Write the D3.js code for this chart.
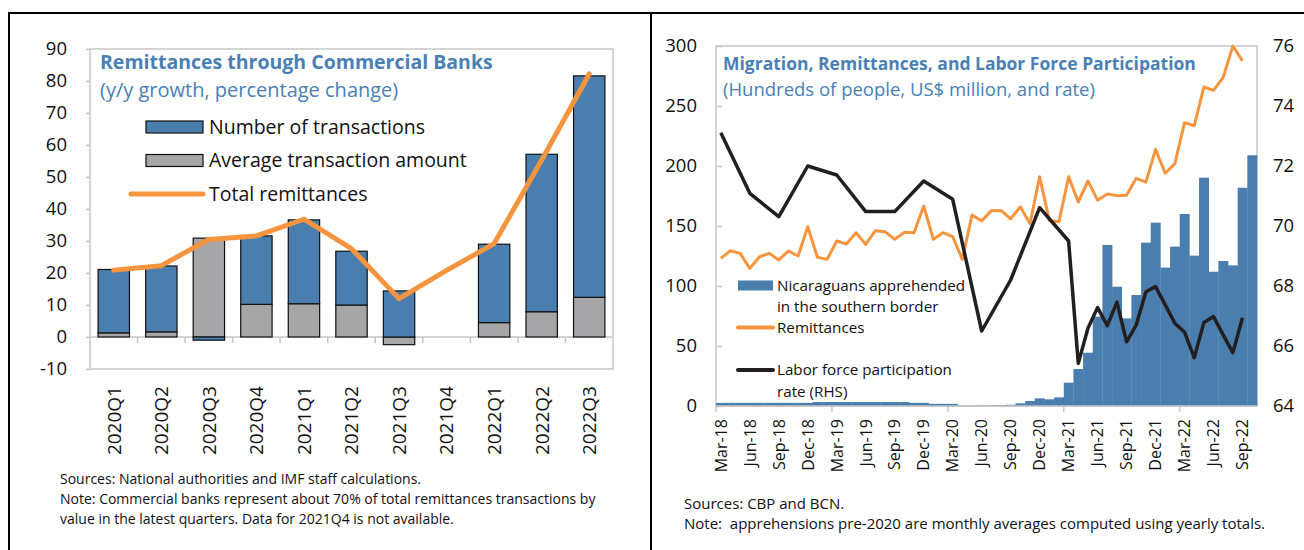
<!DOCTYPE html>
<meta charset="utf-8">
<script src="https://d3js.org/d3.v7.min.js"></script>
<style>
  body { margin: 0; background: #fff; }
  svg text { font-family: "Open Sans", "Noto Sans", sans-serif; }
</style>
<div id="dataVis"></div>
<script>
// ---- left panel: remittances through commercial banks (y/y %) ----
var quarters = ["2020Q1","2020Q2","2020Q3","2020Q4","2021Q1","2021Q2","2021Q3","2021Q4","2022Q1","2022Q2","2022Q3"];
var avgAmount = [1.3, 1.6, 30.9, 10.2, 10.4, 10.0, -2.4, null, 4.5, 7.9, 12.4];
var numTransactions = [19.8, 20.6, -1.0, 21.4, 26.2, 16.8, 14.4, null, 24.5, 49.2, 69.2];
var totalRemit = [20.9, 22.3, 30.5, 31.6, 36.8, 27.6, 12.0, 20.8, 29.2, 55.3, 82.2];
var leftTicks = [-10, 0, 10, 20, 30, 40, 50, 60, 70, 80, 90];

// ---- right panel: migration, remittances, labour force ----
var months = ["Mar-18","Apr-18","May-18","Jun-18","Jul-18","Aug-18","Sep-18","Oct-18","Nov-18","Dec-18",
  "Jan-19","Feb-19","Mar-19","Apr-19","May-19","Jun-19","Jul-19","Aug-19","Sep-19","Oct-19","Nov-19","Dec-19",
  "Jan-20","Feb-20","Mar-20","Apr-20","May-20","Jun-20","Jul-20","Aug-20","Sep-20","Oct-20","Nov-20","Dec-20",
  "Jan-21","Feb-21","Mar-21","Apr-21","May-21","Jun-21","Jul-21","Aug-21","Sep-21","Oct-21","Nov-21","Dec-21",
  "Jan-22","Feb-22","Mar-22","Apr-22","May-22","Jun-22","Jul-22","Aug-22","Sep-22","Oct-22"];
var apprehended = [2.6,2.6,2.6,2.6,2.6,2.6,2.6,2.6,2.6,2.6,
  3.3,3.3,3.3,3.3,3.3,3.3,3.3,3.3,3.3,3.3,2.6,2.6,
  1.8,1.8,1.8,0.3,0.3,0.4,0.6,0.8,1.0,2.2,4.2,6.4,
  5.6,7.2,19.4,30.8,44.4,74.4,134.2,99.4,73.0,92.5,136.1,152.8,
  115.3,132.8,160.0,125.3,190.3,111.9,120.8,117.2,181.9,208.9];
var remittances = [123.1,129.4,127.2,114.7,124.4,127.2,121.7,129.2,125.0,149.4,
  123.9,122.2,137.5,135.0,144.4,134.7,146.1,145.3,138.9,144.7,144.4,166.7,
  138.9,144.4,141.1,122.2,159.2,154.2,162.8,163.0,156.0,166.0,152.0,191.0,
  154.5,153.5,191.0,170.0,187.5,171.5,176.7,175.3,175.6,189.7,186.6,213.9,
  194.0,202.0,236.1,233.5,265.8,263.0,273.9,300.0,287.6,null];
var laborRate = [73.11,null,null,71.09,null,null,70.31,null,null,72.0,
  null,null,71.7,null,null,70.48,null,null,70.48,null,null,71.5,
  null,null,70.89,null,null,66.5,null,null,68.2,null,null,70.61,
  null,null,69.5,65.42,66.59,67.28,66.68,67.46,66.14,66.7,67.81,67.98,
  67.37,66.76,66.46,65.61,66.78,66.98,66.37,65.78,66.94,null];
var rightLeftTicks = [0, 50, 100, 150, 200, 250, 300];
var rightRightTicks = [64, 66, 68, 70, 72, 74, 76];

var blue = "#4a7eae", grey = "#a6a6a8", orange = "#f7953f", titleBlue = "#4a80b4",
    frameGrey = "#c6c6c6", ink = "#111";

var svg = d3.select("#dataVis").append("svg")
  .attr("width", 1304).attr("height", 550);

// panel borders
svg.append("path")
  .attr("d", "M9,550V13H1304M651,13V550")
  .attr("fill", "none").attr("stroke", "#000").attr("stroke-width", 2);

// ================= LEFT PANEL =================
var x = d3.scaleBand().domain(quarters).range([90, 613]);
var y = d3.scaleLinear().domain([-10, 90]).range([369, 49]);

var left = svg.append("g");

left.append("rect")
  .attr("x", 90).attr("y", 49).attr("width", 523).attr("height", 320)
  .attr("fill", "none").attr("stroke", frameGrey).attr("stroke-width", 1.5);

// zero line with category ticks
left.append("line")
  .attr("x1", 90).attr("x2", 613).attr("y1", y(0)).attr("y2", y(0))
  .attr("stroke", frameGrey).attr("stroke-width", 1.5);
left.append("g").selectAll("line")
  .data(quarters.slice(1))
  .enter().append("line")
    .attr("x1", d => x(d)).attr("x2", d => x(d))
    .attr("y1", y(0)).attr("y2", y(0) + 6)
    .attr("stroke", frameGrey).attr("stroke-width", 1.5);

// y axis
var yAxis = left.append("g")
  .attr("transform", "translate(90,0)")
  .call(d3.axisLeft(y).tickValues(leftTicks).tickSize(4).tickPadding(19).tickFormat(d => String(d)));
yAxis.select(".domain").remove();
yAxis.selectAll("line").attr("stroke", frameGrey).attr("stroke-width", 1.5);
yAxis.selectAll("text").style("font-size", "18.5px").style("fill", ink);

// x axis labels (rotated)
var xAxis = left.append("g")
  .attr("transform", "translate(0,369)")
  .call(d3.axisBottom(x).tickSize(0));
xAxis.select(".domain").remove();
xAxis.selectAll("text")
  .attr("transform", "rotate(-90)")
  .attr("x", -17).attr("y", 0).attr("dy", "0.36em")
  .attr("text-anchor", "end")
  .style("font-size", "19px").style("fill", ink);

// stacked bars
var rows = quarters.map((q, i) => ({ q: q, avg: avgAmount[i] || 0, num: numTransactions[i] || 0 }));
var stack = d3.stack().keys(["avg", "num"]).offset(d3.stackOffsetDiverging)(rows);
var barW = x.bandwidth() * 0.66;
var bars = left.append("g");
stack.forEach(function (layer) {
  bars.append("g")
    .attr("fill", layer.key === "avg" ? grey : blue)
    .selectAll("rect")
    .data(layer.filter(d => d[1] !== d[0]))
    .enter().append("rect")
      .attr("x", d => x(d.data.q) + (x.bandwidth() - barW) / 2)
      .attr("y", d => y(Math.max(d[0], d[1])))
      .attr("width", barW)
      .attr("height", d => Math.abs(y(d[0]) - y(d[1])))
      .attr("stroke", ink).attr("stroke-width", 1.2);
});

// total remittances line
left.append("path")
  .datum(totalRemit)
  .attr("fill", "none").attr("stroke", orange).attr("stroke-width", 5)
  .attr("stroke-linejoin", "round").attr("stroke-linecap", "round")
  .attr("d", d3.line().x((d, i) => x(quarters[i]) + x.bandwidth() / 2).y(d => y(d)));

// title
left.append("text").attr("x", 100).attr("y", 69)
  .text("Remittances through Commercial Banks")
  .style("font-size", "19.5px").style("font-weight", "bold").style("fill", titleBlue);
left.append("text").attr("x", 100).attr("y", 97)
  .text("(y/y growth, percentage change)")
  .style("font-size", "20px").style("fill", titleBlue);

// legend
var legL = left.append("g");
var legItems = [
  { name: "Number of transactions", type: "rect", color: blue, cy: 127 },
  { name: "Average transaction amount", type: "rect", color: grey, cy: 160.5 },
  { name: "Total remittances", type: "line", color: orange, cy: 194 }
];
legItems.forEach(function (d) {
  if (d.type === "rect") {
    legL.append("rect").attr("x", 146).attr("y", d.cy - 6).attr("width", 57).attr("height", 12)
      .attr("fill", d.color).attr("stroke", ink).attr("stroke-width", 1.2);
  } else {
    legL.append("line").attr("x1", 131).attr("x2", 203).attr("y1", d.cy).attr("y2", d.cy)
      .attr("stroke", d.color).attr("stroke-width", 5).attr("stroke-linecap", "round");
  }
  legL.append("text").attr("x", 209).attr("y", d.cy).attr("dy", "0.35em")
    .text(d.name).style("font-size", "19.5px").style("fill", ink);
});

// notes
var notesL = ["Sources: National authorities and IMF staff calculations.",
  "Note: Commercial banks represent about 70% of total remittances transactions by",
  "value in the latest quarters. Data for 2021Q4 is not available."];
left.append("g").selectAll("text").data(notesL).enter().append("text")
  .attr("x", 60).attr("y", (d, i) => 484 + i * 20)
  .text(d => d).style("font-size", "14px").style("fill", ink);

// ================= RIGHT PANEL =================
var xr = d3.scaleBand().domain(months).range([716, 1257]);
var yl = d3.scaleLinear().domain([0, 300]).range([406, 46]);
var yr = d3.scaleLinear().domain([64, 76]).range([406, 46]);

var right = svg.append("g");

right.append("rect")
  .attr("x", 716).attr("y", 46).attr("width", 541).attr("height", 360)
  .attr("fill", "none").attr("stroke", frameGrey).attr("stroke-width", 1.5);

// bars
right.append("g").attr("fill", blue)
  .selectAll("rect").data(apprehended).enter().append("rect")
    .attr("x", (d, i) => xr(months[i]))
    .attr("y", d => yl(d))
    .attr("width", xr.bandwidth() + 0.3)
    .attr("height", d => yl(0) - yl(d));

// left axis
var ylAxis = right.append("g").attr("transform", "translate(716,0)")
  .call(d3.axisLeft(yl).tickValues(rightLeftTicks).tickSizeInner(-6).tickSizeOuter(0).tickPadding(19));
ylAxis.select(".domain").remove();
ylAxis.selectAll("line").attr("stroke", frameGrey).attr("stroke-width", 1.5);
ylAxis.selectAll("text").style("font-size", "18.5px").style("fill", ink);

// right axis
var yrAxis = right.append("g").attr("transform", "translate(1257,0)")
  .call(d3.axisRight(yr).tickValues(rightRightTicks).tickSize(0).tickPadding(16));
yrAxis.select(".domain").remove();
yrAxis.selectAll("text").style("font-size", "18.5px").style("fill", ink);

// bottom axis line + yearly ticks
right.append("line").attr("x1", 716).attr("x2", 1257).attr("y1", 406).attr("y2", 406)
  .attr("stroke", frameGrey).attr("stroke-width", 1.5);
right.append("g").selectAll("line")
  .data(months.filter((d, i) => i % 12 === 0))
  .enter().append("line")
    .attr("x1", d => xr(d)).attr("x2", d => xr(d))
    .attr("y1", 406).attr("y2", 412)
    .attr("stroke", frameGrey).attr("stroke-width", 1.5);

var xrAxis = right.append("g").attr("transform", "translate(0,406)")
  .call(d3.axisBottom(xr).tickValues(months.filter((d, i) => i % 3 === 0)).tickSize(0));
xrAxis.select(".domain").remove();
xrAxis.selectAll("text")
  .attr("transform", "rotate(-90)")
  .attr("x", -13).attr("y", 0).attr("dy", "0.36em")
  .attr("text-anchor", "end")
  .style("font-size", "16px").style("fill", ink);

// remittances line
right.append("path")
  .datum(remittances.map((v, i) => [i, v]).filter(d => d[1] != null))
  .attr("fill", "none").attr("stroke", orange).attr("stroke-width", 3)
  .attr("stroke-linejoin", "round")
  .attr("d", d3.line().x(d => xr(months[d[0]]) + xr.bandwidth() / 2).y(d => yl(d[1])));

// labour force line (RHS), connecting the available points
right.append("path")
  .datum(laborRate.map((v, i) => [i, v]).filter(d => d[1] != null))
  .attr("fill", "none").attr("stroke", "#231f20").attr("stroke-width", 3.5)
  .attr("stroke-linejoin", "round")
  .attr("d", d3.line().x(d => xr(months[d[0]]) + xr.bandwidth() / 2).y(d => yr(d[1])));

// title
right.append("text").attr("x", 723).attr("y", 70)
  .text("Migration, Remittances, and Labor Force Participation")
  .style("font-size", "17.5px").style("font-weight", "bold").style("fill", titleBlue);
right.append("text").attr("x", 723).attr("y", 96)
  .text("(Hundreds of people, US$ million, and rate)")
  .style("font-size", "18.5px").style("fill", titleBlue);

// legend
var legR = right.append("g");
legR.append("rect").attr("x", 738).attr("y", 280.5).attr("width", 35).attr("height", 10).attr("fill", blue);
var legRText = [["Nicaraguans apprehended", 291], ["in the southern border", 312], ["Remittances", 333],
  ["Labor force participation", 375], ["rate (RHS)", 397]];
legR.selectAll("text").data(legRText).enter().append("text")
  .attr("x", 777).attr("y", d => d[1]).text(d => d[0])
  .style("font-size", "15.2px").style("fill", ink);
legR.append("line").attr("x1", 738).attr("x2", 773).attr("y1", 327.5).attr("y2", 327.5)
  .attr("stroke", orange).attr("stroke-width", 4).attr("stroke-linecap", "round");
legR.append("line").attr("x1", 738).attr("x2", 773).attr("y1", 370).attr("y2", 370)
  .attr("stroke", "#231f20").attr("stroke-width", 4).attr("stroke-linecap", "round");

// notes
var notesR = ["Sources: CBP and BCN.",
  "Note:  apprehensions pre-2020 are monthly averages computed using yearly totals."];
right.append("g").selectAll("text").data(notesR).enter().append("text")
  .attr("x", 684).attr("y", (d, i) => 509 + i * 20)
  .attr("xml:space", "preserve").style("white-space", "pre")
  .text(d => d).style("font-size", "15px").style("fill", ink);
</script>
